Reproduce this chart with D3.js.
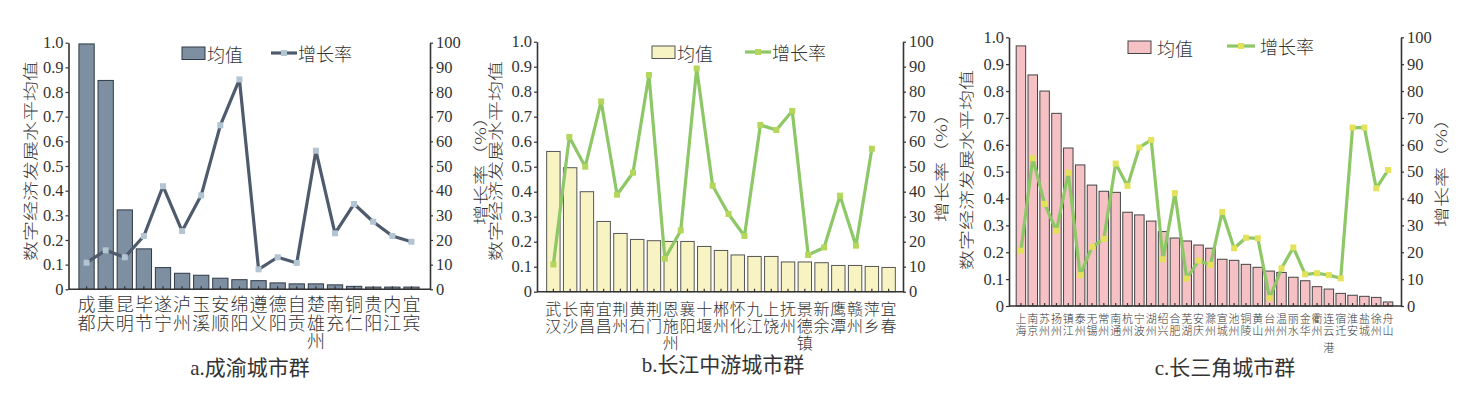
<!DOCTYPE html>
<html>
<head>
<meta charset="utf-8">
<script src="https://cdn.jsdelivr.net/npm/d3@7/dist/d3.min.js"></script>
<style>
  html, body { margin: 0; padding: 0; background: #fff; }
  svg { display: block; }
</style>
</head>
<body>
<div id="chart"></div>
<script>
// ---- data ----
const citiesA = ['成都','重庆','昆明','毕节','遂宁','泸州','玉溪','安顺','绵阳','遵义','德阳','自贡','楚雄州','南充','铜仁','贵阳','内江','宜宾'];
const meanA = [0.995,0.847,0.322,0.164,0.088,0.065,0.057,0.045,0.039,0.035,0.026,0.022,0.022,0.018,0.012,0.009,0.009,0.009];
const growthA = [10.8,15.8,13,21.6,41.8,23.6,38.1,66.5,85.1,8.1,13,10.7,56.2,22.7,34.6,27.4,21.6,19.3];

const citiesB = ['武汉','长沙','南昌','宜昌','荆州','黄石','荆门','恩施州','襄阳','十堰','郴州','怀化','九江','上饶','抚州','景德镇','新余','鹰潭','赣州','萍乡','宜春'];
const meanB = [0.561,0.496,0.40,0.281,0.233,0.209,0.204,0.201,0.201,0.181,0.165,0.147,0.141,0.141,0.119,0.119,0.116,0.105,0.105,0.101,0.097];
const growthB = [10.9,61.9,50,76.1,38.8,47.6,86.7,13.2,24.5,89.3,42.4,31.1,22.3,66.7,64.7,72.3,14.7,17.7,38.4,18.4,57.2];

const citiesC = ['上海','南京','苏州','扬州','镇江','泰州','无锡','常州','南通','杭州','宁波','湖州','绍兴','合肥','芜湖','安庆','滁州','宣城','池州','铜陵','黄山','台州','温州','丽水','金华','衢州','连云港','宿迁','淮安','盐城','徐州','舟山'];
const meanC = [0.968,0.86,0.80,0.717,0.588,0.525,0.45,0.427,0.423,0.349,0.339,0.316,0.277,0.253,0.242,0.227,0.215,0.174,0.17,0.155,0.144,0.13,0.125,0.107,0.094,0.072,0.063,0.047,0.04,0.036,0.032,0.015];
const growthC = [20.6,55,38,28,49.6,11.5,22,25,53,44.7,59,61.8,17.4,42,10.2,16.9,15.3,35,21.5,25.4,25.2,2.9,14,21.8,11.8,12.2,11.5,10.3,66.4,66.4,43.8,50.6];

const leftTicks = [0,0.1,0.2,0.3,0.4,0.5,0.6,0.7,0.8,0.9,1.0];
const leftTickLabels = ['0','0.1','0.2','0.3','0.4','0.5','0.6','0.7','0.8','0.9','1.0'];
const rightTicks = [0,10,20,30,40,50,60,70,80,90,100];

const leftTitle = '数字经济发展水平均值';
const rightTitle = '增长率（%）';
const legendBar = '均值';
const legendLine = '增长率';
const titles = ['a.成渝城市群', 'b.长江中游城市群', 'c.长三角城市群'];

// ---- layout ----
const width = 1466, height = 397;
const FONT = '"Liberation Serif", "Noto Sans CJK SC", serif';
const CJK = '"Noto Sans CJK SC", sans-serif';
const INK = '#333';

const panels = [
  { cities: citiesA, mean: meanA, growth: growthA, title: titles[0],
    x0: 68.5, x1: 430, yTop: 42.7, yBot: 289.3, band: [77, 421],
    barFill: '#7e8fa1', barStroke: '#2f3a46', lineColor: '#4d5b6d', markFill: '#b3c4d3',
    catFont: 18, catRows: [303, 321.7, 340],
    leftLab: [29, 161], rightLab: [479, 166], titlePos: [250, 368],
    leg: { sx: 182, sy: 47, tx: 207, lx0: 271, lx1: 297, ly: 53, ltx: 298 },
    lineShift: false },
  { cities: citiesB, mean: meanB, growth: growthB, title: titles[1],
    x0: 537, x1: 903, yTop: 41.7, yBot: 291.7, band: [545, 897],
    barFill: '#f8f3c3', barStroke: '#555', lineColor: '#8dc766', markFill: '#b4d65a',
    catFont: 16, catRows: [308, 325, 342],
    leftLab: [494, 161], rightLab: [940, 163], titlePos: [723, 365],
    leg: { sx: 652, sy: 46, tx: 677, lx0: 745, lx1: 771, ly: 52, ltx: 772 },
    lineShift: true },
  { cities: citiesC, mean: meanC, growth: growthC, title: titles[2],
    x0: 1009, x1: 1401, yTop: 37.3, yBot: 306, band: [1015, 1394],
    barFill: '#f5c1c5', barStroke: '#444', lineColor: '#8dc766', markFill: '#e3e25a',
    catFont: 11, catRows: [318, 329.5, 347],
    leftLab: [965, 170], rightLab: [1440, 168], titlePos: [1225, 368],
    leg: { sx: 1128, sy: 41, tx: 1157, lx0: 1227, lx1: 1255, ly: 46, ltx: 1260 },
    lineShift: false }
];

const svg = d3.select('#chart').append('svg')
  .attr('width', width).attr('height', height)
  .attr('font-family', FONT);

svg.append('rect').attr('width', width).attr('height', height).attr('fill', '#fff');

panels.forEach(p => {
  const g = svg.append('g');
  const n = p.cities.length;

  const x = d3.scaleBand().domain(p.cities).range(p.band).paddingInner(0.2).paddingOuter(0.1);
  const yL = d3.scaleLinear().domain([0, 1]).range([p.yBot, p.yTop]);
  const yR = d3.scaleLinear().domain([0, 100]).range([p.yBot, p.yTop]);
  const cx = c => x(c) + x.bandwidth() / 2;

  // growth line x: in panel b the line is drawn over the first n-1 band centres
  const lastIdx = p.lineShift ? n - 2 : n - 1;
  const xl = d3.scaleLinear().domain([0, n - 1]).range([cx(p.cities[0]), cx(p.cities[lastIdx])]);

  // bars
  g.selectAll('rect.bar').data(p.cities).join('rect')
    .attr('class', 'bar')
    .attr('x', d => x(d))
    .attr('y', (d, i) => yL(p.mean[i]))
    .attr('width', x.bandwidth())
    .attr('height', (d, i) => p.yBot - yL(p.mean[i]))
    .attr('fill', p.barFill)
    .attr('stroke', p.barStroke)
    .attr('stroke-width', 1);

  // axes
  const axL = g.append('g').attr('transform', `translate(${p.x0},0)`)
    .call(d3.axisLeft(yL).tickValues(leftTicks).tickFormat((d, i) => leftTickLabels[i])
      .tickSize(3).tickSizeOuter(0).tickPadding(2));
  const axR = g.append('g').attr('transform', `translate(${p.x1},0)`)
    .call(d3.axisRight(yR).tickValues(rightTicks).tickSize(3).tickSizeOuter(0).tickPadding(3));
  const axB = g.append('g').attr('transform', `translate(0,${p.yBot})`)
    .call(d3.axisBottom(x).tickSize(-3).tickSizeOuter(0).tickFormat(''));
  axB.select('.domain').attr('d', `M${p.x0},0H${p.x1}`);

  [axL, axR, axB].forEach(a => {
    a.attr('font-family', FONT).attr('font-size', 16.5);
    a.select('.domain').attr('stroke', INK).attr('stroke-width', 1.6);
    a.selectAll('.tick line').attr('stroke', INK).attr('stroke-width', 1.2);
    a.selectAll('.tick text').attr('fill', INK);
  });

  // growth line
  const line = d3.line().x((d, i) => xl(i)).y(d => yR(d));
  g.append('path').datum(p.growth)
    .attr('d', line)
    .attr('fill', 'none')
    .attr('stroke', p.lineColor)
    .attr('stroke-width', 3.2)
    .attr('stroke-linejoin', 'round');
  g.selectAll('rect.mk').data(p.growth).join('rect')
    .attr('class', 'mk')
    .attr('x', (d, i) => xl(i) - 3)
    .attr('y', d => yR(d) - 3)
    .attr('width', 6).attr('height', 6)
    .attr('fill', p.markFill);

  // category labels, one character per row
  p.cities.forEach(c => {
    const t = g.append('text')
      .attr('text-anchor', 'middle')
      .attr('font-family', CJK)
      .attr('font-weight', 300)
      .attr('font-size', p.catFont)
      .attr('fill', INK);
    Array.from(c).forEach((ch, k) => {
      t.append('tspan').attr('x', cx(c)).attr('y', p.catRows[k])
        .attr('dominant-baseline', 'central').text(ch);
    });
  });

  // axis titles (glyphs are narrow across the text direction in the original)
  [[p.leftLab, leftTitle], [p.rightLab, rightTitle]].forEach(([pos, txt]) => {
    g.append('text')
      .attr('transform', `translate(${pos[0]},${pos[1]}) rotate(-90) scale(1,0.76)`)
      .attr('text-anchor', 'middle').attr('dominant-baseline', 'central')
      .attr('font-family', CJK).attr('font-weight', 300)
      .attr('font-size', 20).attr('fill', INK).text(txt);
  });

  // legend
  const L = p.leg;
  g.append('rect').attr('x', L.sx).attr('y', L.sy).attr('width', 23).attr('height', 12.5)
    .attr('fill', p.barFill).attr('stroke', p.barStroke).attr('stroke-width', 1);
  g.append('text').attr('x', L.tx).attr('y', L.sy + 6.5).attr('dominant-baseline', 'central')
    .attr('font-family', CJK).attr('font-weight', 300)
    .attr('font-size', 18).attr('fill', INK).text(legendBar);
  g.append('line').attr('x1', L.lx0).attr('x2', L.lx1).attr('y1', L.ly).attr('y2', L.ly)
    .attr('stroke', p.lineColor).attr('stroke-width', 3.2);
  g.append('rect').attr('x', (L.lx0 + L.lx1) / 2 - 3).attr('y', L.ly - 3)
    .attr('width', 6).attr('height', 6).attr('fill', p.markFill);
  g.append('text').attr('x', L.ltx).attr('y', L.ly).attr('dominant-baseline', 'central')
    .attr('font-family', CJK).attr('font-weight', 300)
    .attr('font-size', 18).attr('fill', INK).text(legendLine);

  // panel title
  g.append('text').attr('x', p.titlePos[0]).attr('y', p.titlePos[1])
    .attr('text-anchor', 'middle').attr('dominant-baseline', 'central')
    .attr('font-size', 21).attr('fill', INK).text(p.title);
});
</script>
</body>
</html>
